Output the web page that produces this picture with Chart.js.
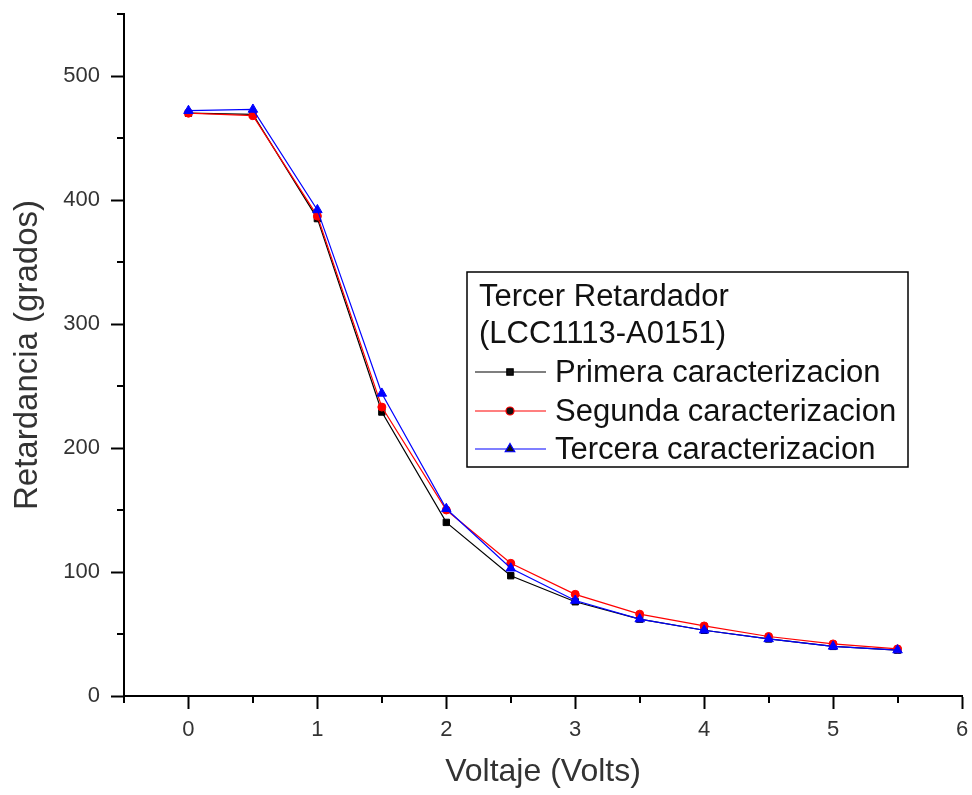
<!DOCTYPE html>
<html>
<head>
<meta charset="utf-8">
<script src="https://cdn.jsdelivr.net/npm/chart.js@4.4.1/dist/chart.umd.min.js"></script>
<style>
  html, body { margin: 0; padding: 0; background: #fff; }
  #wrap { width: 972px; height: 795px; }
</style>
</head>
<body>
<div id="wrap"><canvas id="chart" width="972" height="795"></canvas></div>
<script>
// Voltage steps (x) and retardance readings (y) for each characterization
const voltaje = [0, 0.5, 1, 1.5, 2, 2.5, 3, 3.5, 4, 4.5, 5, 5.5];
const primera = [470, 469, 385, 229, 140, 97, 76, 62, 53, 46, 40, 37];
const segunda = [470, 468, 387, 233, 150, 107, 82, 66, 56.5, 48, 42, 38];
const tercera = [472, 473, 392, 244, 151, 103, 77, 62, 53, 46, 40, 37];

const serieNombres = ["Primera caracterizacion", "Segunda caracterizacion", "Tercera caracterizacion"];
const leyendaTitulo = ["Tercer Retardador", "(LCC1113-A0151)"];

const FONT = "'Liberation Sans', Arial, sans-serif";

const toPoints = arr => arr.map((v, i) => ({ x: voltaje[i], y: v }));

// Short minor ticks (half steps) drawn outside the axes
const minorTicks = {
    id: "minorTicks",
    afterDraw(chart) {
        const { ctx, scales } = chart;
        const xs = scales.x, ys = scales.y;
        ctx.save();
        ctx.strokeStyle = "#000";
        ctx.lineWidth = 2;
        ctx.beginPath();
        xs.ticks.forEach(t => {
            if (!Number.isInteger(t.value)) {
                const px = Math.round(xs.getPixelForValue(t.value));
                ctx.moveTo(px, ys.bottom);
                ctx.lineTo(px, ys.bottom + 7);
            }
        });
        ys.ticks.forEach(t => {
            if (t.value % 100 !== 0) {
                const py = Math.round(ys.getPixelForValue(t.value));
                ctx.moveTo(xs.left, py);
                ctx.lineTo(xs.left - 7, py);
            }
        });
        ctx.stroke();
        ctx.restore();
    }
};

// Boxed legend with a two-line title, placed inside the plot
const boxLegend = {
    id: "boxLegend",
    afterDraw(chart) {
        const ctx = chart.ctx;
        const box = { left: 467, top: 272, right: 908, bottom: 467 };
        ctx.save();
        ctx.fillStyle = "#fff";
        ctx.fillRect(box.left, box.top, box.right - box.left, box.bottom - box.top);
        ctx.strokeStyle = "#000";
        ctx.lineWidth = 1.5;
        ctx.strokeRect(box.left, box.top, box.right - box.left, box.bottom - box.top);

        ctx.fillStyle = "#111";
        ctx.font = "31px " + FONT;
        ctx.textBaseline = "alphabetic";
        ctx.textAlign = "left";
        ctx.fillText(leyendaTitulo[0], 479, 306);
        ctx.fillText(leyendaTitulo[1], 479, 343);

        const rows = [372, 411, 449];
        chart.data.datasets.forEach((ds, i) => {
            const y = rows[i];
            ctx.strokeStyle = ds.borderColor;
            ctx.lineWidth = 1.2;
            ctx.beginPath();
            ctx.moveTo(475, y);
            ctx.lineTo(546, y);
            ctx.stroke();
            Chart.helpers.drawPoint(ctx, {
                pointStyle: ds.pointStyle,
                radius: ds.pointRadius,
                borderWidth: 1,
                rotation: 0
            }, 510, y);
            ctx.fillStyle = "#111";
            ctx.textBaseline = "middle";
            ctx.fillText(ds.label, 555, y + 1);
        });
        ctx.restore();
    }
};

function makeSet(label, values, color, style, radius, order) {
    return {
        label: label,
        data: toPoints(values),
        borderColor: color,
        backgroundColor: color,
        pointBackgroundColor: color,
        pointBorderColor: color,
        borderWidth: 1.2,
        pointStyle: style,
        pointRadius: radius,
        pointBorderWidth: 1,
        tension: 0,
        order: order
    };
}

new Chart(document.getElementById("chart").getContext("2d"), {
    type: "line",
    data: {
        datasets: [
            makeSet(serieNombres[0], primera, "#000000", "rect", 4.5, 2),
            makeSet(serieNombres[1], segunda, "#ff0000", "circle", 4, 1),
            makeSet(serieNombres[2], tercera, "#0000ff", "triangle", 5.5, 0)
        ]
    },
    options: {
        responsive: false,
        animation: false,
        layout: { padding: { top: 14, right: 10, left: 0, bottom: 0 } },
        plugins: {
            legend: { display: false },
            tooltip: { enabled: false }
        },
        scales: {
            x: {
                type: "linear",
                min: -0.5,
                max: 6,
                afterFit: s => { s.height = 99; s.paddingLeft = 0; s.paddingRight = 0; },
                ticks: {
                    stepSize: 0.5,
                    autoSkip: false,
                    maxRotation: 0,
                    padding: 8,
                    color: "#333",
                    font: { family: FONT, size: 22 },
                    callback: v => Number.isInteger(v) ? String(v) : ""
                },
                grid: {
                    drawOnChartArea: false,
                    tickLength: 13,
                    tickWidth: 2,
                    tickColor: c => Number.isInteger(c.tick.value) ? "#000" : "rgba(0,0,0,0)"
                },
                border: { display: true, color: "#000", width: 2 },
                title: {
                    display: true,
                    text: "Voltaje (Volts)",
                    color: "#333",
                    font: { family: FONT, size: 32 },
                    padding: { top: 0, bottom: 4 }
                }
            },
            y: {
                type: "linear",
                min: 0,
                max: 550,
                afterFit: s => { s.width = 124; s.paddingTop = 0; s.paddingBottom = 0; },
                ticks: {
                    stepSize: 50,
                    autoSkip: false,
                    padding: 11,
                    color: "#333",
                    font: { family: FONT, size: 22 },
                    callback: v => v % 100 === 0 ? String(v) : ""
                },
                grid: {
                    drawOnChartArea: false,
                    tickLength: 13,
                    tickWidth: 2,
                    tickColor: c => c.tick.value % 100 === 0 ? "#000" : "rgba(0,0,0,0)"
                },
                border: { display: true, color: "#000", width: 2 },
                title: {
                    display: true,
                    text: "Retardancia (grados)",
                    color: "#333",
                    font: { family: FONT, size: 33 },
                    padding: { top: 8, bottom: 0 }
                }
            }
        }
    },
    plugins: [minorTicks, boxLegend]
});
</script>
</body>
</html>
